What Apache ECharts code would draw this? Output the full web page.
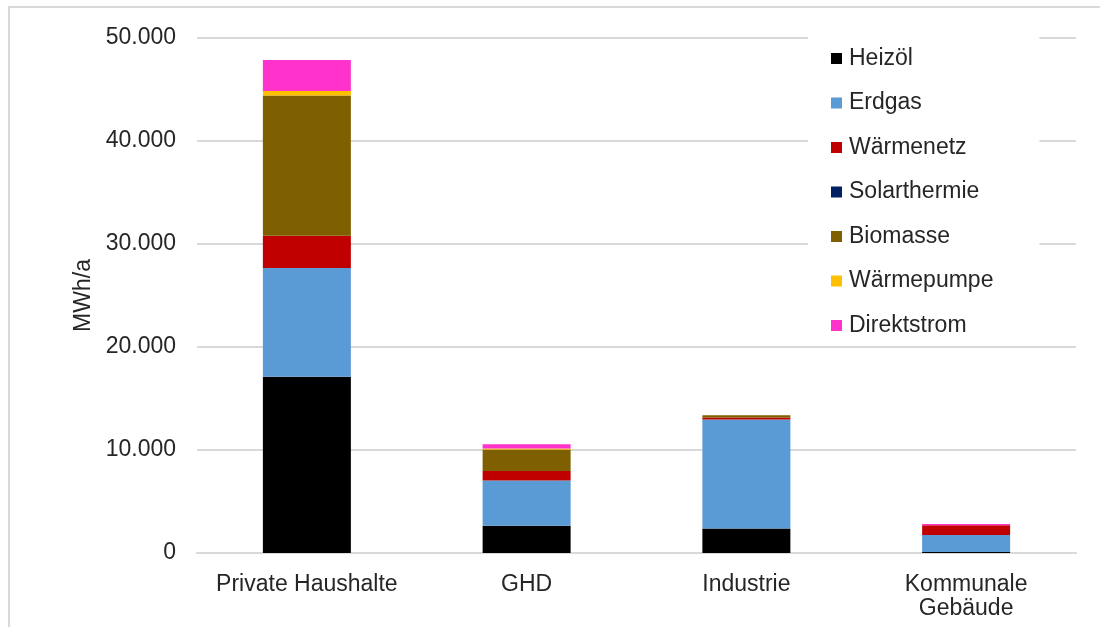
<!DOCTYPE html>
<html>
<head>
<meta charset="utf-8">
<script src="https://cdn.jsdelivr.net/npm/echarts@6/dist/echarts.min.js"></script>
<style>
  html, body { margin: 0; padding: 0; background: #fff; }
  #frame { position: absolute; left: 8px; top: 6px; width: 1100px; height: 640px; border: 2px solid #d9d9d9; box-sizing: border-box; }
  #chart { position: absolute; left: 0; top: 0; width: 1100px; height: 627px; }
</style>
</head>
<body>
<div id="frame"></div>
<div id="chart"></div>
<script>
// Endenergiebedarf Wärme nach Sektor und Energieträger (MWh/a)
const categories = ['Private Haushalte', 'GHD', 'Industrie', 'Kommunale\nGebäude'];
const seriesNames = ['Heizöl', 'Erdgas', 'Wärmenetz', 'Solarthermie', 'Biomasse', 'Wärmepumpe', 'Direktstrom'];
const heizoel      = [17100, 2650,  2370,  100];
const erdgas       = [10570, 4400, 10580, 1650];
const waermenetz   = [ 3140,  900,   200,  940];
const solarthermie = [    0,    0,     0,    0];
const biomasse     = [13600, 2100,   230,    0];
const waermepumpe  = [  450,  100,     0,    0];
const direktstrom  = [ 3000,  420,     0,  130];
const yTicks = [0, 10000, 20000, 30000, 40000, 50000];

const colors = ['#000000', '#5b9bd5', '#c00000', '#002060', '#7f6000', '#ffc000', '#ff33cc'];
const values = [heizoel, erdgas, waermenetz, solarthermie, biomasse, waermepumpe, direktstrom];

const font = '"Liberation Sans", Arial, sans-serif';
const chart = echarts.init(document.getElementById('chart'), null, { renderer: 'canvas' });

chart.setOption({
  animation: false,
  grid: { left: 197, right: 24, top: 38, bottom: 74, containLabel: false },
  legend: {
    orient: 'vertical',
    left: 808,
    top: 32,
    padding: [15, 46, 6, 23],
    backgroundColor: '#ffffff',
    itemWidth: 11,
    itemHeight: 11,
    itemGap: 21.5,
    icon: 'rect',
    data: seriesNames,
    textStyle: { fontFamily: font, fontSize: 23, color: '#262626', lineHeight: 23, padding: [0, 0, 0, 2] }
  },
  xAxis: {
    type: 'category',
    data: categories,
    axisLine: { show: true, lineStyle: { color: '#d9d9d9', width: 2 } },
    axisTick: { show: false },
    axisLabel: { interval: 0, fontFamily: font, fontSize: 23, color: '#262626', margin: 20, lineHeight: 24 }
  },
  yAxis: {
    type: 'value',
    min: yTicks[0],
    max: yTicks[yTicks.length - 1],
    interval: 10000,
    name: 'MWh/a',
    nameLocation: 'middle',
    nameGap: 98,
    nameRotate: 90,
    nameTextStyle: { fontFamily: font, fontSize: 23, color: '#262626' },
    axisLine: { show: false },
    axisTick: { show: false },
    splitLine: { lineStyle: { color: '#d9d9d9', width: 2 } },
    axisLabel: {
      fontFamily: font, fontSize: 23, color: '#262626', margin: 21,
      formatter: v => v.toLocaleString('de-DE')
    }
  },
  series: seriesNames.map((name, i) => ({
    name: name,
    type: 'bar',
    stack: 'total',
    barWidth: 88,
    itemStyle: { color: colors[i] },
    data: values[i]
  }))
});
</script>
</body>
</html>
